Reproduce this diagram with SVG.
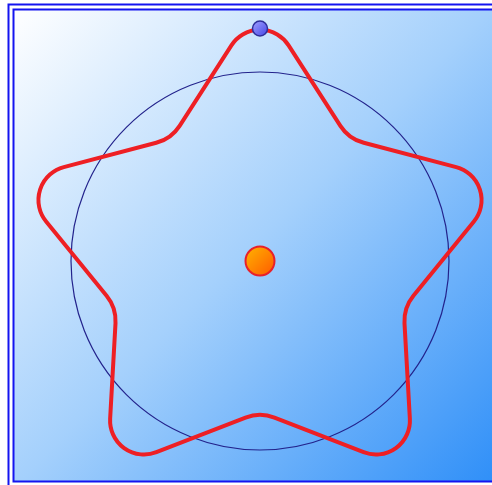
<svg xmlns="http://www.w3.org/2000/svg" width="492" height="485" viewBox="0 0 492 485">
  <defs>
    <linearGradient id="bg" gradientUnits="userSpaceOnUse" x1="13" y1="9" x2="492" y2="485">
      <stop offset="0" stop-color="#ffffff"/>
      <stop offset="0.5" stop-color="#a4d0fc"/>
      <stop offset="1" stop-color="#2f8ff8"/>
    </linearGradient>
    <linearGradient id="orange" x1="0" y1="0" x2="1" y2="1">
      <stop offset="0" stop-color="#ffb400"/>
      <stop offset="1" stop-color="#ff5a00"/>
    </linearGradient>
    <linearGradient id="bluedot" x1="0" y1="0" x2="1" y2="1">
      <stop offset="0" stop-color="#a0a0ff"/>
      <stop offset="1" stop-color="#4646e6"/>
    </linearGradient>
    <style>
      .frame { fill: none; stroke: #1414f0; stroke-width: 2; }
      .star { fill: none; stroke: #ee1f24; stroke-width: 4; stroke-linejoin: round; }
      .guide { fill: none; stroke: #23238c; stroke-width: 1.2; }
    </style>
  </defs>

  <rect x="0" y="0" width="492" height="485" fill="#ffffff"/>

  <g id="frame">
    <rect x="13.5" y="9.5" width="490" height="472" fill="url(#bg)"/>
    <rect class="frame" x="8.5" y="4.5" width="500" height="500"/>
    <rect class="frame" x="13.5" y="9.5" width="490" height="472"/>
  </g>

  <g id="circle">
    <circle class="guide" cx="260" cy="261" r="189"/>
  </g>

  <g id="star">
    <path class="star" d="M 288.59 45.40 L 340.37 125.80 A 40 40 0 0 0 363.75 142.79 L 456.23 167.19 A 34 34 0 0 1 473.90 221.57 L 413.42 295.65 A 40 40 0 0 0 404.49 323.14 L 409.86 418.62 A 34 34 0 0 1 363.60 452.23 L 274.45 417.61 A 40 40 0 0 0 245.55 417.61 L 156.40 452.23 A 34 34 0 0 1 110.14 418.62 L 115.51 323.14 A 40 40 0 0 0 106.58 295.65 L 46.11 221.57 A 34 34 0 0 1 63.77 167.19 L 156.25 142.79 A 40 40 0 0 0 179.63 125.80 L 231.41 45.40 A 34 34 0 0 1 288.59 45.40 Z"/>
  </g>

  <g id="center">
    <circle cx="260" cy="261" r="14.5" fill="url(#orange)" stroke="#e8202a" stroke-width="2"/>
  </g>

  <g id="handle">
    <circle cx="260" cy="28.5" r="7.5" fill="url(#bluedot)" stroke="#2e2e9a" stroke-width="1.5"/>
  </g>
</svg>
